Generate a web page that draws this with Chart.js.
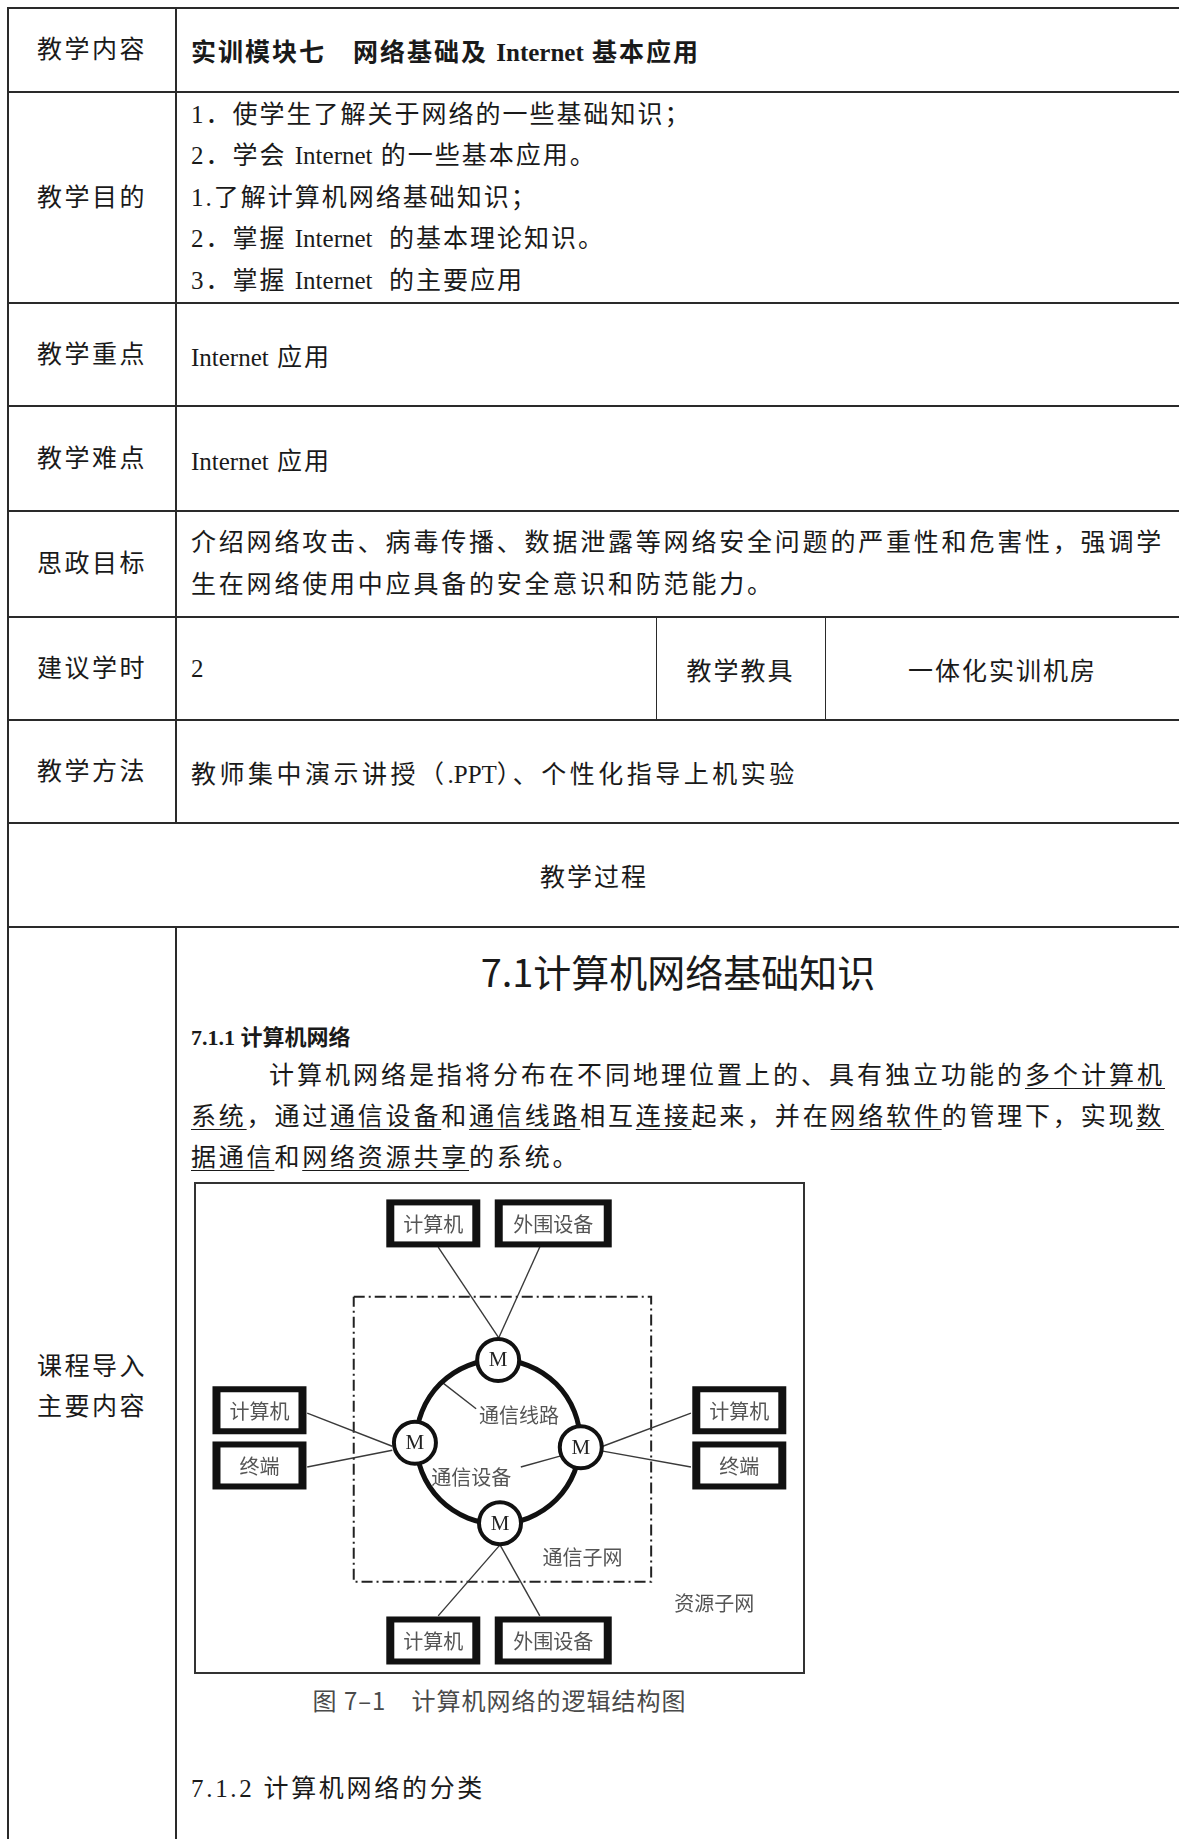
<!DOCTYPE html>
<html>
<head>
<meta charset="utf-8">
<script src="https://cdn.jsdelivr.net/npm/chart.js@4.4.0/dist/chart.umd.min.js"></script>
<style>
  body { margin: 0; background: #fff; width: 1179px; height: 1839px; overflow: hidden; position: relative;
         font-family: "Liberation Serif", "Noto Sans CJK SC", serif; color: #1a1a1a; }
  .h { position: absolute; left: 8px; width: 1174px; height: 2px; background: #2a2a2a; }
  .v { position: absolute; background: #2a2a2a; }
  .t { position: absolute; display: flex; align-items: center; font-size: 25px; letter-spacing: 2px; white-space: nowrap; }
  .lab { left: 8px; width: 168px; justify-content: center; text-align: center; letter-spacing: 2.5px; line-height: 40px; }
  .c { left: 191px; }
  .ctr { justify-content: center; }
  .lines { line-height: 41.5px; }
  .en { letter-spacing: 0; }
  u { text-decoration-thickness: 1px; text-underline-offset: 4px; }
  .ln { position: absolute; font-size: 25px; letter-spacing: 2.8px; white-space: nowrap; line-height: 41px; }
  #box { position: absolute; left: 194px; top: 1182px; width: 611px; height: 492px; box-sizing: border-box; border: 2px solid #333; }
  #net { position: absolute; left: 194px; top: 1182px; }
</style>
</head>
<body>

<!-- table lines -->
<div class="h" style="top:7px"></div>
<div class="h" style="top:91px"></div>
<div class="h" style="top:302px"></div>
<div class="h" style="top:405px"></div>
<div class="h" style="top:510px"></div>
<div class="h" style="top:616px"></div>
<div class="h" style="top:719px"></div>
<div class="h" style="top:822px"></div>
<div class="h" style="top:926px"></div>
<div class="v" style="left:7px;top:7px;width:2px;height:1840px"></div>
<div class="v" style="left:175px;top:7px;width:2px;height:816px"></div>
<div class="v" style="left:175px;top:926px;width:2px;height:920px"></div>
<div class="v" style="left:656px;top:617px;width:1px;height:103px"></div>
<div class="v" style="left:825px;top:617px;width:1px;height:103px"></div>

<!-- rows -->
<div class="t lab" style="top:8px;height:84px">教学内容</div>
<div class="t c" style="top:8px;height:84px;font-weight:bold"><span>实训模块七　网络基础及 <span class="en">Internet</span> 基本应用</span></div>

<div class="t lab" style="top:92px;height:211px">教学目的</div>
<div class="t c lines" style="top:92px;height:211px"><div>
  1．使学生了解关于网络的一些基础知识；<br>
  2．学会 <span class="en">Internet</span> 的一些基本应用。<br>
  1.了解计算机网络基础知识；<br>
  2．掌握 <span class="en">Internet</span>&nbsp; 的基本理论知识。<br>
  3．掌握 <span class="en">Internet</span>&nbsp; 的主要应用
</div></div>

<div class="t lab" style="top:303px;height:103px">教学重点</div>
<div class="t c" style="top:303px;height:103px"><span><span class="en">Internet</span> 应用</span></div>

<div class="t lab" style="top:406px;height:105px">教学难点</div>
<div class="t c" style="top:406px;height:105px"><span><span class="en">Internet</span> 应用</span></div>

<div class="t lab" style="top:511px;height:106px">思政目标</div>
<div class="t c" style="top:511px;height:106px;letter-spacing:2.8px;line-height:42px"><div>
  介绍网络攻击、病毒传播、数据泄露等网络安全问题的严重性和危害性，强调学<br>
  生在网络使用中应具备的安全意识和防范能力。
</div></div>

<div class="t lab" style="top:617px;height:103px">建议学时</div>
<div class="t c" style="top:617px;height:103px">2</div>
<div class="t ctr" style="left:656px;width:169px;top:617px;height:103px">教学教具</div>
<div class="t ctr" style="left:825px;width:355px;top:617px;height:103px">一体化实训机房</div>

<div class="t lab" style="top:720px;height:103px">教学方法</div>
<div class="t c" style="top:720px;height:103px;letter-spacing:3.5px"><span>教师集中演示讲授（<span class="en">.PPT</span>）、个性化指导上机实验</span></div>

<div class="t ctr" style="left:8px;width:1172px;top:823px;height:104px">教学过程</div>

<div class="t lab" style="top:927px;height:920px">课程导入<br>主要内容</div>

<!-- main content cell -->
<div class="t ctr" style="left:176px;width:1004px;top:945px;height:50px;font-family:'Noto Sans CJK SC';font-size:38px;letter-spacing:0">7.1计算机网络基础知识</div>
<div class="t c" style="top:1015px;height:40px;font-size:22px;font-weight:bold;letter-spacing:0">7.1.1 计算机网络</div>
<div class="ln" style="left:269px;top:1055px;letter-spacing:3px">计算机网络是指将分布在不同地理位置上的、具有独立功能的<u>多个计算机</u></div>
<div class="ln" style="left:191px;top:1096px"><u>系统</u>，通过<u>通信设备</u>和<u>通信线路</u>相互<u>连接</u>起来，并在<u>网络软件</u>的管理下，实现<u>数</u></div>
<div class="ln" style="left:191px;top:1137px"><u>据通信</u>和<u>网络资源共享</u>的系统。</div>

<div id="box"></div>
<canvas id="net" width="612" height="493"></canvas>

<div class="t ctr" style="left:194px;width:611px;top:1682px;height:34px;font-family:'Noto Sans CJK SC';font-size:24px;letter-spacing:1px;color:#4a4a4a">图 7–1　计算机网络的逻辑结构图</div>

<div class="t c" style="top:1765px;height:41px;letter-spacing:2.7px">7.1.2 计算机网络的分类</div>

<script>
// diagram values, in a 0-100 grid over the figure box (y grows downward)
const boxLabels = ['计算机', '外围设备', '计算机', '终端', '计算机', '终端', '计算机', '外围设备'];
const boxX = [39.1, 58.7, 10.7, 10.7, 89.1, 89.1, 39.1, 58.7];
const boxY = [8.4, 8.4, 46.3, 57.5, 46.3, 57.5, 93.0, 93.0];

const nodeX = [49.7, 36.1, 63.2, 50.0];
const nodeY = [36.1, 52.9, 53.8, 69.2];
const ringX = 49.7;
const ringY = 52.7;

// links from boxes to nodes, plus the two label pointers
const linkX1 = [39.9, 56.5, 18.5, 18.5, 81.2, 81.2, 50.0, 50.0, 40.5, 53.4];
const linkY1 = [13.2, 13.2, 46.9, 57.8, 46.9, 57.8, 73.6, 73.6, 40.6, 57.8];
const linkX2 = [49.8, 49.8, 32.4, 32.4, 66.8, 66.8, 39.9, 56.5, 46.1, 59.8];
const linkY2 = [31.6, 31.6, 53.6, 54.4, 53.6, 54.6, 88.0, 88.0, 46.0, 55.6];

// communication subnet frame (dash-dot)
const frameX = [26.1, 74.7, 74.7, 26.1, 26.1];
const frameY = [23.3, 23.3, 81.1, 81.1, 23.3];

const noteLabels = ['通信线路', '通信设备', '通信子网', '资源子网'];
const noteX = [53.1, 45.3, 63.5, 85.0];
const noteY = [47.3, 60.0, 76.1, 85.4];

const pts = (xs, ys) => xs.map((x, i) => ({ x: x, y: ys[i] }));

const datasets = [];
datasets.push({
  data: pts(nodeX, nodeY),
  pointRadius: 21, pointBorderWidth: 4,
  pointBackgroundColor: '#fff', pointBorderColor: '#111',
  order: 1, clip: false
});
datasets.push({
  data: [{ x: ringX, y: ringY }],
  pointRadius: 82, pointBorderWidth: 5,
  pointBackgroundColor: 'rgba(0,0,0,0)', pointBorderColor: '#111',
  order: 2, clip: false
});
linkX1.forEach((x, i) => {
  datasets.push({
    data: [{ x: x, y: linkY1[i] }, { x: linkX2[i], y: linkY2[i] }],
    showLine: true, borderColor: '#3a3a3a', borderWidth: 1.4,
    pointRadius: 0, order: 3, clip: false
  });
});
datasets.push({
  data: pts(frameX, frameY),
  showLine: true, borderColor: '#222', borderWidth: 2,
  borderDash: [11, 4, 2, 4], pointRadius: 0, order: 4, clip: false
});

const diagramText = {
  id: 'diagramText',
  afterDatasetsDraw(chart) {
    const c = chart.ctx;
    const sx = chart.scales.x, sy = chart.scales.y;
    c.save();
    c.textAlign = 'center';
    c.textBaseline = 'middle';

    // M on each node
    c.fillStyle = '#222';
    c.font = '21px "Liberation Serif"';
    nodeX.forEach((x, i) => {
      c.fillText('M', sx.getPixelForValue(x), sy.getPixelForValue(nodeY[i]) + 1);
    });

    // boxed devices
    boxLabels.forEach((lab, i) => {
      const w = lab.length > 3 ? 117 : 94;
      const h = 48;
      const px = sx.getPixelForValue(boxX[i]), py = sy.getPixelForValue(boxY[i]);
      c.fillStyle = '#111';
      c.fillRect(px - w / 2, py - h / 2, w, h);
      c.fillStyle = '#fff';
      c.fillRect(px - w / 2 + 8, py - h / 2 + 6, w - 16, h - 12);
      c.fillStyle = '#555';
      c.font = '20px "Noto Sans CJK SC"';
      c.fillText(lab, px, py + 1);
    });

    // free notes
    c.fillStyle = '#555';
    c.font = '20px "Noto Sans CJK SC"';
    noteLabels.forEach((lab, i) => {
      c.fillText(lab, sx.getPixelForValue(noteX[i]), sy.getPixelForValue(noteY[i]));
    });
    c.restore();
  }
};

new Chart(document.getElementById('net'), {
  type: 'scatter',
  data: { datasets },
  options: {
    responsive: false,
    animation: false,
    layout: { padding: 0, autoPadding: false },
    plugins: { legend: { display: false }, tooltip: { enabled: false } },
    scales: {
      x: { type: 'linear', min: 0, max: 100, display: false },
      y: { type: 'linear', min: 0, max: 100, reverse: true, display: false }
    }
  },
  plugins: [diagramText]
});
</script>
</body>
</html>
